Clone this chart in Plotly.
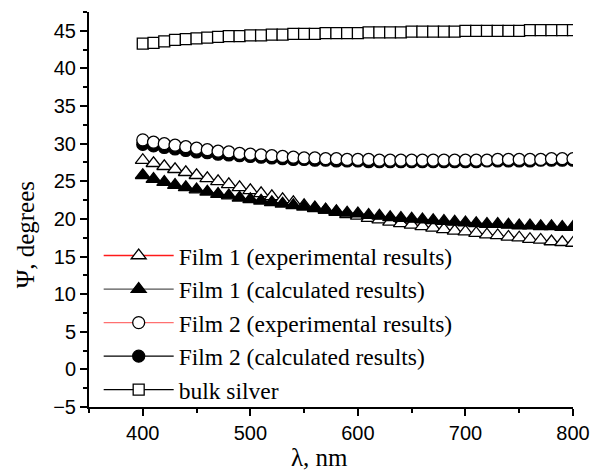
import plotly.graph_objects as go

wavelength = list(range(400, 801, 10))

film1_exp = [27.8, 27.4, 27.0, 26.6, 26.2, 25.8, 25.4, 25.0, 24.6, 24.2,
             23.8, 23.4, 23.0, 22.6, 22.2, 21.8, 21.5, 21.2, 20.9, 20.6,
             20.4, 20.1, 19.9, 19.6, 19.4, 19.2, 19.0, 18.8, 18.6, 18.4,
             18.3, 18.1, 17.9, 17.8, 17.6, 17.5, 17.3, 17.2, 17.0, 16.9, 16.8]

film1_calc = [25.8, 25.3, 24.9, 24.5, 24.2, 23.9, 23.6, 23.3, 23.1, 22.8,
              22.6, 22.4, 22.2, 22.0, 21.8, 21.6, 21.4, 21.2, 21.0, 20.8,
              20.7, 20.5, 20.4, 20.2, 20.1, 20.0, 19.9, 19.8, 19.7, 19.6,
              19.5, 19.4, 19.3, 19.3, 19.2, 19.1, 19.1, 19.0, 19.0, 18.9, 18.9]

film2_exp = [30.5, 30.2, 30.0, 29.8, 29.6, 29.4, 29.2, 29.0, 28.9, 28.7,
             28.6, 28.5, 28.4, 28.3, 28.2, 28.1, 28.1, 28.0, 28.0, 27.9,
             27.9, 27.9, 27.8, 27.8, 27.8, 27.8, 27.8, 27.8, 27.8, 27.8,
             27.8, 27.8, 27.8, 27.9, 27.9, 27.9, 27.9, 27.9, 28.0, 28.0, 28.0]

film2_calc = [29.9, 29.7, 29.5, 29.3, 29.1, 28.9, 28.8, 28.6, 28.5, 28.4,
              28.3, 28.2, 28.1, 28.0, 27.9, 27.9, 27.8, 27.8, 27.7, 27.7,
              27.7, 27.6, 27.6, 27.6, 27.6, 27.6, 27.6, 27.6, 27.6, 27.6,
              27.6, 27.6, 27.7, 27.7, 27.7, 27.7, 27.7, 27.8, 27.8, 27.8, 27.8]

bulk_silver = [43.3, 43.4, 43.6, 43.8, 43.9, 44.0, 44.1, 44.2, 44.3, 44.3,
               44.4, 44.4, 44.5, 44.5, 44.6, 44.6, 44.6, 44.7, 44.7, 44.7,
               44.7, 44.8, 44.8, 44.8, 44.8, 44.9, 44.9, 44.9, 44.9, 44.9,
               45.0, 45.0, 45.0, 45.0, 45.0, 45.0, 45.1, 45.1, 45.1, 45.1, 45.1]

names = ["Film 1 (experimental results)", "Film 1 (calculated results)",
         "Film 2 (experimental results)", "Film 2 (calculated results)",
         "bulk silver"]

y_ticks = list(range(-5, 46, 5))
x_ticks = [400, 500, 600, 700, 800]
x_title = "λ, nm"
y_title = "Ψ, degrees"

fig = go.Figure()

def add(y, name, symbol, fill, linecolor, size, rank):
    fig.add_trace(go.Scatter(
        x=wavelength, y=y, name=name, mode="lines+markers",
        line=dict(color=linecolor, width=1.3),
        marker=dict(symbol=symbol, size=size, color=fill,
                    line=dict(color="black", width=1.3)),
        legendrank=rank, legendgroup=name))

add(film1_exp, names[0], "triangle-up", "white", "#ff1a1a", 13, 1)
add(film1_calc, names[1], "triangle-up", "black", "#555555", 13, 2)
add(film2_calc, names[3], "circle", "black", "black", 12, 4)
add(film2_exp, names[2], "circle", "white", "#ff7070", 12, 3)
add(bulk_silver, names[4], "square", "white", "black", 11, 5)

axis_common = dict(showline=True, linecolor="black", linewidth=2,
                   ticks="outside", ticklen=7, tickwidth=1.5, tickcolor="black",
                   showgrid=False, zeroline=False,
                   tickfont=dict(family="Liberation Sans, Arial", size=20, color="black"),
                   mirror=False, automargin=False)

serif = "Liberation Serif, Times New Roman"

fig.update_layout(
    width=592, height=467,
    margin=dict(l=81, r=27, t=4, b=68, autoexpand=False),
    paper_bgcolor="white", plot_bgcolor="white",
    xaxis=dict(range=[350, 800], tickvals=x_ticks,
               minor=dict(tickvals=[350, 450, 550, 650, 750], ticklen=4,
                          tickwidth=1.5, tickcolor="black", ticks="outside"),
               **axis_common),
    yaxis=dict(range=[-5, 47.5], tickvals=y_ticks,
               minor=dict(dtick=2.5, tick0=0, ticklen=4, tickwidth=1.5,
                          tickcolor="black", ticks="outside"),
               **axis_common),
    legend=dict(x=0.02, y=-0.012, xanchor="left", yanchor="bottom",
                bgcolor="rgba(0,0,0,0)", itemwidth=70,
                traceorder="grouped", tracegroupgap=0,
                font=dict(family=serif, size=23.5, color="black")),
    showlegend=True,
    annotations=[
        dict(text=x_title, xref="paper", yref="paper", x=0.477, y=-0.128,
             xanchor="center", yanchor="middle", showarrow=False,
             font=dict(family=serif, size=25, color="black")),
        dict(text=y_title, xref="paper", yref="paper", x=-0.132, y=0.435,
             xanchor="center", yanchor="middle", showarrow=False, textangle=-90,
             font=dict(family=serif, size=25, color="black")),
    ],
)

fig.write_html("out.html")
